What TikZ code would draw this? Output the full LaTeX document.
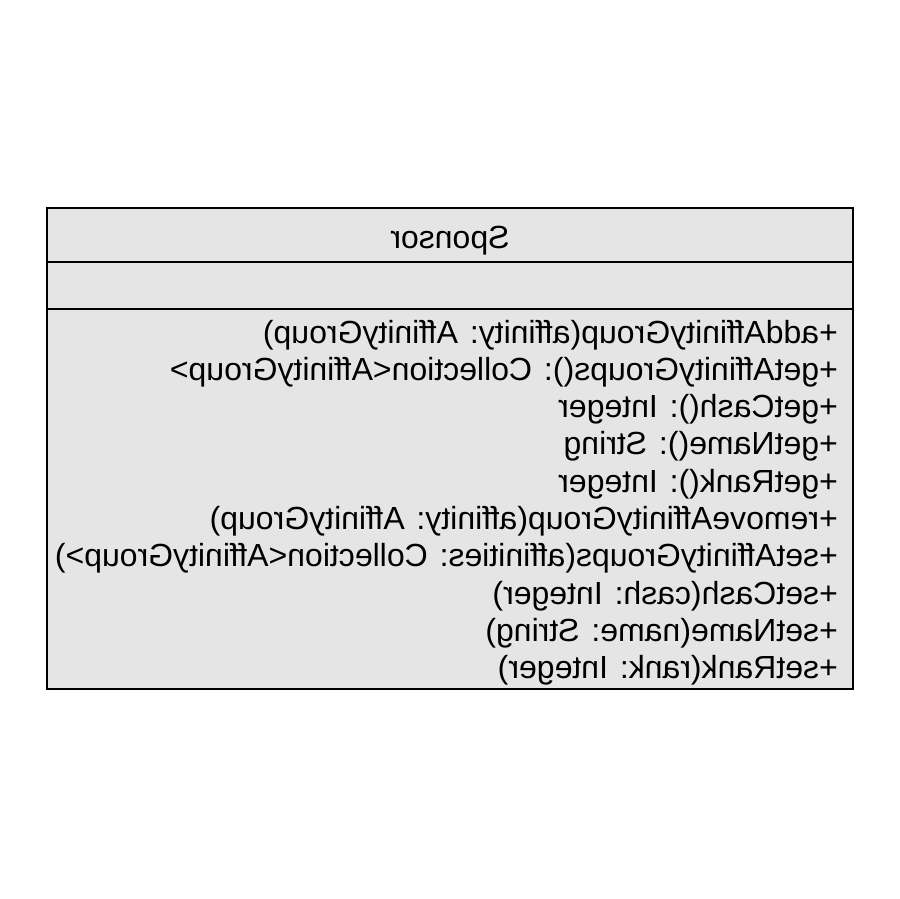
\documentclass[tikz,border=0pt]{standalone}
\usepackage{fontspec}
\setmainfont{Liberation Sans}
\begin{document}
\begin{tikzpicture}[x=1pt,y=-1pt,
  boxline/.style={line width=2pt,draw=black},
  mtext/.style={xscale=-1,anchor=base west,inner sep=0pt,font=\fontsize{32}{38}\selectfont},
  htext/.style={xscale=-1,anchor=base,inner sep=0pt,font=\fontsize{32}{38}\selectfont}]
\useasboundingbox[fill=white] (0,0) rectangle (900,899);
\fill[black!10] (47,208) rectangle (853,689);
\coordinate (tl) at (47,208);
\coordinate (br) at (853,689);
\coordinate (l1) at (47,262);
\coordinate (r1) at (853,262);
\coordinate (l2) at (47,309);
\coordinate (r2) at (853,309);
\draw[boxline] (tl) rectangle (br);
\draw[boxline] (l1) -- (r1);
\draw[boxline] (l2) -- (r2);
\node[htext] (title) at (450,248) {Sponsor};
\node[mtext] (m1) at (838,343) {+addAffinityGroup(affinity: AffinityGroup)};
\node[mtext] (m2) at (838,380.3) {+getAffinityGroups(): Collection<AffinityGroup>};
\node[mtext] (m3) at (838,417.6) {+getCash(): Integer};
\node[mtext] (m4) at (838,454.9) {+getName(): String};
\node[mtext] (m5) at (838,492.2) {+getRank(): Integer};
\node[mtext] (m6) at (838,529.5) {+removeAffinityGroup(affinity: AffinityGroup)};
\node[mtext] (m7) at (838,566.8) {+setAffinityGroups(affinities: Collection<AffinityGroup>)};
\node[mtext] (m8) at (838,604.1) {+setCash(cash: Integer)};
\node[mtext] (m9) at (838,641.4) {+setName(name: String)};
\node[mtext] (m10) at (838,678.7) {+setRank(rank: Integer)};
\end{tikzpicture}
\end{document}
